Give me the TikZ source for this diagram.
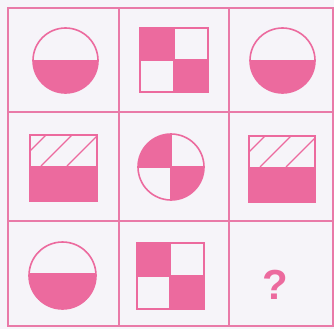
\documentclass[tikz,border=0pt]{standalone}
\usepackage{fontspec}
\setmainfont{Liberation Sans}
\definecolor{pk}{HTML}{EC6A9E}
\definecolor{pkl}{HTML}{E97AA8}
\definecolor{bg}{HTML}{F6F4F9}
\begin{document}
\begin{tikzpicture}[x=1pt,y=-1pt,
  grid/.style={draw=pkl,line width=1.8pt},
  outl/.style={draw=pk,line width=1.6pt},
  filled/.style={fill=pk},
  hatch/.style={draw=pk,line width=1.1pt}]
\useasboundingbox[fill=bg] (0,0) rectangle (334,329);
% grid
\draw[grid] (8,8) rectangle (333,326);
\draw[grid] (119,8) -- (119,326) (229,8) -- (229,326);
\draw[grid] (8,112) -- (333,112) (8,221) -- (333,221);
% row 1 col 1: circle, lower half filled
\begin{scope}
\clip (65.5,60.5) circle[radius=32.5];
\fill[filled] (30,60.5) rectangle (100,95);
\end{scope}
\draw[outl] (65.5,60.5) circle[radius=32.5];
\draw[outl] (33,60.5) -- (98,60.5);
% row 1 col 2: square, TL and BR filled
\fill[filled] (140,28) rectangle (174,60);
\fill[filled] (174,60) rectangle (208,92);
\draw[outl] (140,28) rectangle (208,92);
\draw[outl] (174,28) -- (174,92) (140,60) -- (208,60);
% row 1 col 3
\begin{scope}
\clip (282.5,60.5) circle[radius=32.5];
\fill[filled] (248,60.5) rectangle (318,95);
\end{scope}
\draw[outl] (282.5,60.5) circle[radius=32.5];
\draw[outl] (250,60.5) -- (315,60.5);
% row 2 col 1: rectangle, hatched top, filled bottom
\begin{scope}
\clip (30,135) rectangle (97,166);
\foreach \s in {0,26,52,78} {\draw[hatch] (\s+20,135) -- (\s-11,166);}
\end{scope}
\fill[filled] (30,166) rectangle (97,201);
\draw[outl] (30,135) rectangle (97,201);
% row 2 col 2: circle, TL and BR quarters filled
\fill[filled] (171,167) -- (138,167) arc[start angle=180,end angle=270,radius=33] -- cycle;
\fill[filled] (171,167) -- (204,167) arc[start angle=0,end angle=90,radius=33] -- cycle;
\draw[outl] (171,167) circle[radius=33];
\draw[outl] (138,167) -- (204,167) (171,134) -- (171,200);
% row 2 col 3
\begin{scope}
\clip (249,136) rectangle (315,167);
\foreach \s in {0,26,52,78} {\draw[hatch] (\s+239,136) -- (\s+208,167);}
\end{scope}
\fill[filled] (249,167) rectangle (315,202);
\draw[outl] (249,136) rectangle (315,202);
% row 3 col 1
\begin{scope}
\clip (62.5,275.5) circle[radius=33.5];
\fill[filled] (27,274) rectangle (98,311);
\end{scope}
\draw[outl] (62.5,275.5) circle[radius=33.5];
\draw[outl] (29.2,274) -- (95.8,274);
% row 3 col 2
\fill[filled] (137,243) rectangle (170,276);
\fill[filled] (170,276) rectangle (204,309);
\draw[outl] (137,243) rectangle (204,309);
\draw[outl] (170,243) -- (170,309) (137,276) -- (204,276);
% row 3 col 3
\node[text=pk,font=\bfseries\fontsize{42}{42}\selectfont,inner sep=0pt] (q) at (275,285) {?};
\end{tikzpicture}
\end{document}
